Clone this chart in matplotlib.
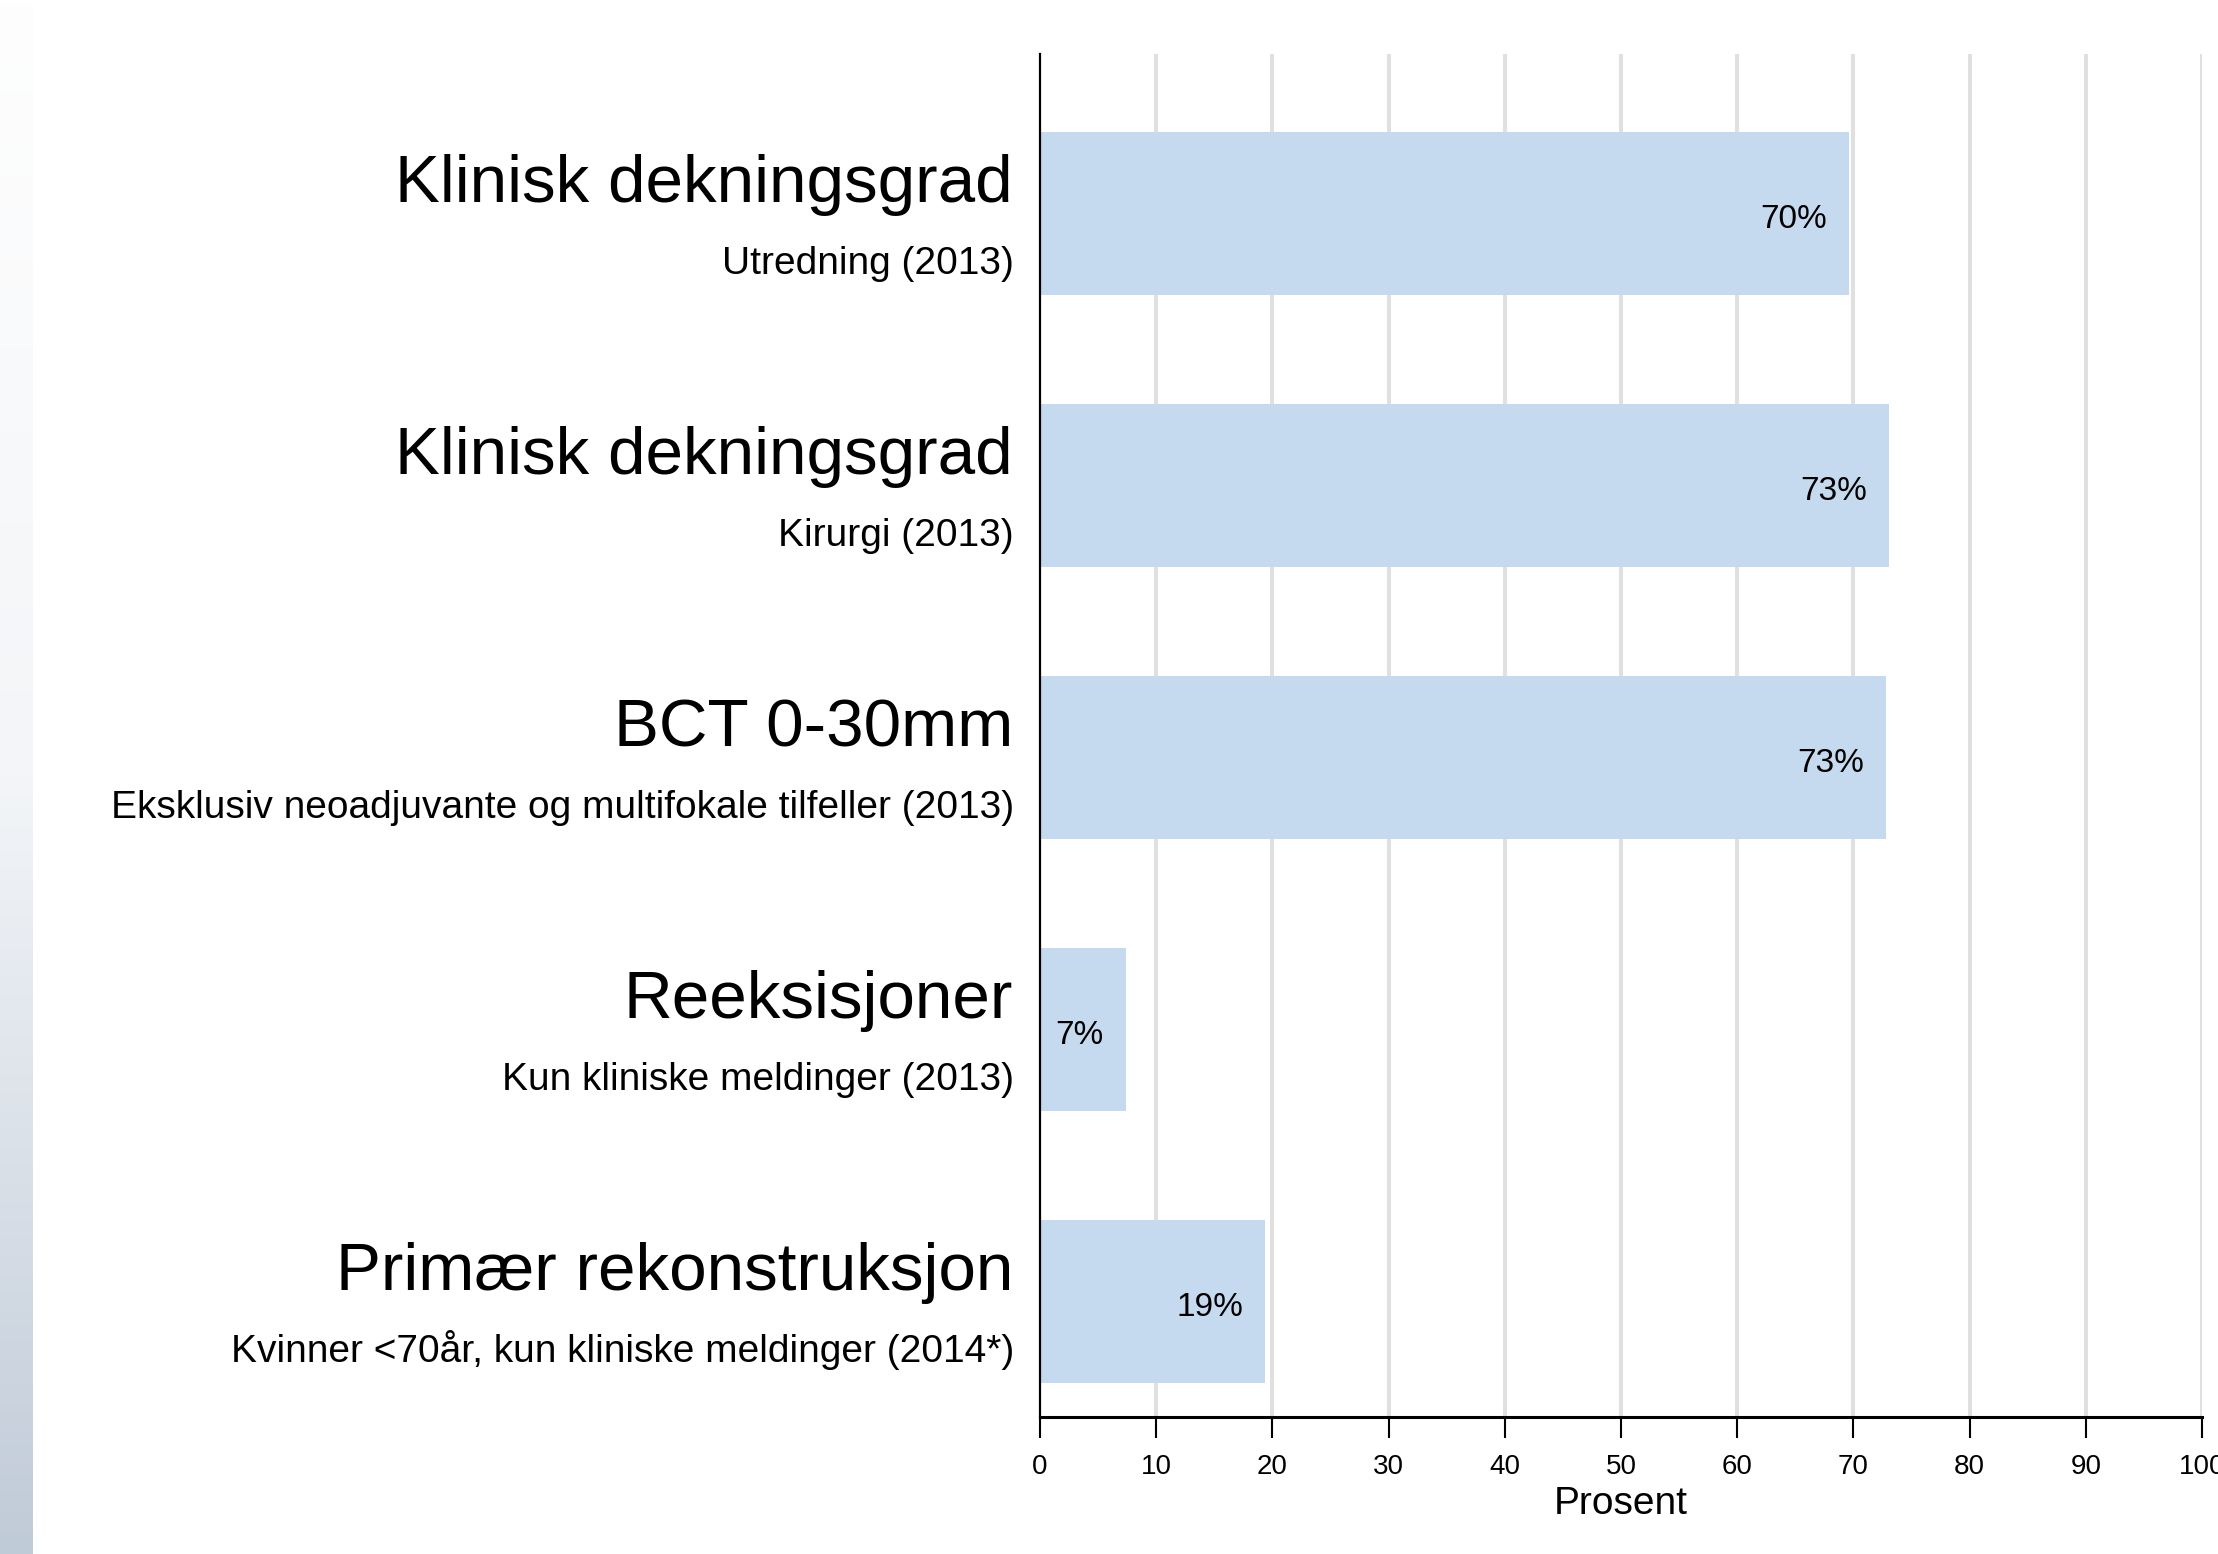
import numpy as np
import matplotlib
matplotlib.use("Agg")
import matplotlib.pyplot as plt
from matplotlib.colors import LinearSegmentedColormap

plt.rcParams['font.family'] = ['Liberation Sans', 'DejaVu Sans']

# Indicator titles, subtitles and shares (percent)
titles = [
    "Klinisk dekningsgrad",
    "Klinisk dekningsgrad",
    "BCT 0-30mm",
    "Reeksisjoner",
    "Primær rekonstruksjon",
]
subtitles = [
    "Utredning (2013)",
    "Kirurgi (2013)",
    "Eksklusiv neoadjuvante og multifokale tilfeller (2013)",
    "Kun kliniske meldinger (2013)",
    "Kvinner <70år, kun kliniske meldinger (2014*)",
]
values = [69.6, 73.1, 72.8, 7.4, 19.4]
xticks = [0, 10, 20, 30, 40, 50, 60, 70, 80, 90, 100]
xlabel = "Prosent"

DPI = 100
W, H = 2218, 1554
fig = plt.figure(figsize=(W / DPI, H / DPI), dpi=DPI)
fig.patch.set_facecolor("white")

# Decorative gradient strip along the left edge
strip = fig.add_axes([0, 0, 33 / W, 1])
grad = np.linspace(0, 1, 256).reshape(-1, 1)
cmap = LinearSegmentedColormap.from_list("strip", ["#fefefe", "#f3f5f8", "#c0cbd8"])
strip.imshow(grad, aspect="auto", cmap=cmap, extent=[0, 1, 0, 1], origin="upper")
strip.set_axis_off()

ax_left = 1040 / W
ax_right = 2202 / W
ax_top = 1 - 54 / H
ax_bottom = 1 - 1417 / H
ax = fig.add_axes([ax_left, ax_bottom, ax_right - ax_left, ax_top - ax_bottom])

pos = np.arange(len(values))
ax.barh(pos, values, height=0.6, color="#c6daef", edgecolor="none", zorder=2)

ax.set_xlim(0, 100)
ax.set_ylim(4.426, -0.585)
ax.set_xticks(xticks)
ax.set_xticklabels([str(t) for t in xticks], fontsize=20)
ax.set_yticks([])

for t in xticks[1:]:
    ax.axvline(t, color="#e0e0e0", lw=2.9, zorder=1)

for side in ("top", "right"):
    ax.spines[side].set_visible(False)
ax.spines["left"].set_linewidth(1.6)
ax.spines["bottom"].set_linewidth(2.2)
ax.spines["left"].set_zorder(3)
ax.spines["bottom"].set_zorder(3)
ax.tick_params(axis="x", length=15, width=1.5, pad=12, color="black")

px = 72 / DPI  # one pixel in points

for y, v, t, s in zip(pos, values, titles, subtitles):
    ax.annotate(f"{int(v + 0.5)}%", xy=(v, y), xytext=(-22 * px, -6 * px),
                textcoords="offset points", ha="right", va="center",
                fontsize=24, zorder=4)
    ax.annotate(t, xy=(0, y), xycoords=("axes fraction", "data"),
                xytext=(-27 * px, 11 * px), textcoords="offset points",
                ha="right", va="baseline", fontsize=48.5, annotation_clip=False)
    ax.annotate(s, xy=(0, y), xycoords=("axes fraction", "data"),
                xytext=(-26 * px, -61 * px), textcoords="offset points",
                ha="right", va="baseline", fontsize=28, annotation_clip=False)

fig.text((1040 + 581) / W, 1 - 1504 / H, xlabel, ha="center", va="center", fontsize=28)

fig.savefig("out.png", dpi=DPI)
